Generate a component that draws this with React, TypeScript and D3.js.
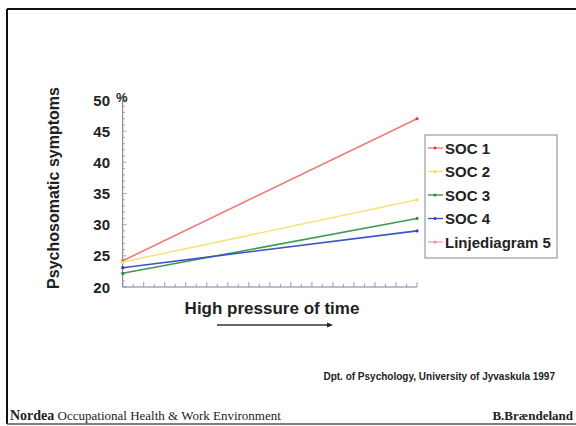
import { useEffect, useRef } from 'react';
import * as d3 from 'd3';

// two measuring points: low / high pressure of time
const xPoints = [0, 1];
const seriesNames = ['SOC 1', 'SOC 2', 'SOC 3', 'SOC 4', 'Linjediagram 5'];
const soc1 = [24.2, 47];
const soc2 = [24, 34];
const soc3 = [22.2, 31];
const soc4 = [23.1, 29];
const linje5: number[] = [];
const yTicks = [20, 25, 30, 35, 40, 45, 50];

const LINE_COLORS = ['#f07a7a', '#f6e37c', '#3f9a4c', '#3e50cc', '#f2a6b8'];
const MARK_COLORS = ['#e43a3a', '#f3dc5a', '#2f8a40', '#3040c0', '#f08aa0'];

export default function App() {
  const svgRef = useRef<SVGSVGElement>(null);
  const width = 576;
  const height = 426;

  useEffect(() => {
    if (!svgRef.current) return;
    const svg = d3.select(svgRef.current);
    svg.selectAll('*').remove();

    const left = 122.7;
    const right = 417;
    const top = 100;
    const bottom = 287;

    const x = d3.scaleLinear().domain([0, 1]).range([left, right]);
    const y = d3.scaleLinear().domain([20, 50]).range([bottom, top]);

    // frame
    svg.append('rect').attr('width', width).attr('height', height).attr('fill', '#fff');
    svg.append('line').attr('x1', 7).attr('x2', width).attr('y1', 9).attr('y2', 9)
      .attr('stroke', '#111').attr('stroke-width', 2);
    svg.append('line').attr('x1', 7).attr('x2', 7).attr('y1', 9).attr('y2', 424)
      .attr('stroke', '#111').attr('stroke-width', 2);
    svg.append('line').attr('x1', 7).attr('x2', width).attr('y1', 424).attr('y2', 424)
      .attr('stroke', '#555').attr('stroke-width', 1.5);

    const g = svg.append('g');

    // y axis with minor ticks
    g.append('line').attr('x1', left).attr('x2', left).attr('y1', top).attr('y2', bottom)
      .attr('stroke', '#777').attr('stroke-width', 1);
    g.selectAll('.ymin')
      .data(d3.range(20, 51, 1))
      .enter()
      .append('line')
      .attr('x1', left)
      .attr('x2', d => left + (d % 5 === 0 ? 4 : 2.5))
      .attr('y1', d => y(d))
      .attr('y2', d => y(d))
      .attr('stroke', '#999')
      .attr('stroke-width', 0.8);

    g.selectAll('.ylab')
      .data(yTicks)
      .enter()
      .append('text')
      .attr('x', 110)
      .attr('y', d => y(d))
      .attr('text-anchor', 'end')
      .attr('dominant-baseline', 'central')
      .attr('font-family', 'Liberation Sans, Arial, sans-serif')
      .attr('font-weight', 'bold')
      .attr('font-size', '15px')
      .attr('fill', '#222')
      .text(d => String(d));

    g.append('text')
      .attr('x', 116)
      .attr('y', 97)
      .attr('dominant-baseline', 'central')
      .attr('font-family', 'Liberation Sans, Arial, sans-serif')
      .attr('font-weight', 'bold')
      .attr('font-size', '13px')
      .attr('fill', '#222')
      .text('%');

    // x axis with small upward ticks
    g.append('line').attr('x1', left).attr('x2', right).attr('y1', bottom).attr('y2', bottom)
      .attr('stroke', '#7a7aa8').attr('stroke-width', 1.2);
    g.selectAll('.xtick')
      .data(d3.range(0, 29))
      .enter()
      .append('line')
      .attr('x1', d => x(d / 28))
      .attr('x2', d => x(d / 28))
      .attr('y1', bottom)
      .attr('y2', d => bottom - (d % 2 === 0 ? 5 : 3))
      .attr('stroke', '#888')
      .attr('stroke-width', 0.8);

    // axis titles
    g.append('text')
      .attr('transform', `translate(53,188) rotate(-90)`)
      .attr('text-anchor', 'middle')
      .attr('dominant-baseline', 'central')
      .attr('font-family', 'Liberation Sans, Arial, sans-serif')
      .attr('font-weight', 'bold')
      .attr('font-size', '16px')
      .attr('fill', '#222')
      .text('Psychosomatic symptoms');

    g.append('text')
      .attr('x', 272)
      .attr('y', 308)
      .attr('text-anchor', 'middle')
      .attr('dominant-baseline', 'central')
      .attr('font-family', 'Liberation Sans, Arial, sans-serif')
      .attr('font-weight', 'bold')
      .attr('font-size', '17px')
      .attr('fill', '#222')
      .text('High pressure of time');

    // arrow
    g.append('line').attr('x1', 217).attr('x2', 330).attr('y1', 325).attr('y2', 325)
      .attr('stroke', '#333').attr('stroke-width', 1.3);
    g.append('path').attr('d', 'M333,325 L327,322.5 L327,327.5 Z').attr('fill', '#222');

    // series lines
    const allSeries = [soc1, soc2, soc3, soc4, linje5];
    const line = d3.line<number>()
      .x((_, i) => x(xPoints[i]))
      .y(d => y(d));

    allSeries.forEach((vals, si) => {
      if (!vals.length) return;
      g.append('path')
        .attr('d', line(vals) as string)
        .attr('fill', 'none')
        .attr('stroke', LINE_COLORS[si])
        .attr('stroke-width', 1.6);
      g.selectAll(`.m${si}`)
        .data(vals)
        .enter()
        .append('circle')
        .attr('cx', (_, i) => x(xPoints[i]))
        .attr('cy', d => y(d))
        .attr('r', 1.6)
        .attr('fill', MARK_COLORS[si]);
    });

    // legend
    const lx = 425;
    const ly = 135;
    g.append('rect').attr('x', lx).attr('y', ly).attr('width', 132).attr('height', 123)
      .attr('fill', '#fff').attr('stroke', '#888').attr('stroke-width', 1);
    const lg = g.selectAll('.leg')
      .data(seriesNames)
      .enter()
      .append('g')
      .attr('transform', (_, i) => `translate(${lx},${ly + 13 + i * 23.5})`);
    lg.append('line').attr('x1', 3).attr('x2', 18).attr('y1', 0).attr('y2', 0)
      .attr('stroke', (_, i) => LINE_COLORS[i]).attr('stroke-width', 1.4);
    lg.append('circle').attr('cx', 10).attr('cy', 0).attr('r', 1.5)
      .attr('fill', (_, i) => MARK_COLORS[i]);
    lg.append('text')
      .attr('x', 20)
      .attr('y', 0)
      .attr('dominant-baseline', 'central')
      .attr('font-family', 'Liberation Sans, Arial, sans-serif')
      .attr('font-weight', 'bold')
      .attr('font-size', '15px')
      .attr('fill', '#222')
      .text(d => d);

    // footer
    g.append('text')
      .attr('x', 555)
      .attr('y', 376)
      .attr('text-anchor', 'end')
      .attr('dominant-baseline', 'central')
      .attr('font-family', 'Liberation Sans, Arial, sans-serif')
      .attr('font-weight', 'bold')
      .attr('font-size', '10px')
      .attr('fill', '#222')
      .text('Dpt. of Psychology, University of Jyvaskula 1997');

    const ft = g.append('text')
      .attr('x', 10)
      .attr('y', 420)
      .attr('font-family', 'Liberation Serif, Times New Roman, serif')
      .attr('font-size', '13px')
      .attr('fill', '#222');
    ft.append('tspan').attr('font-weight', 'bold').attr('font-size', '14px').text('Nordea');
    ft.append('tspan').text('  Occupational Health & Work Environment');

    g.append('text')
      .attr('x', 573)
      .attr('y', 420)
      .attr('text-anchor', 'end')
      .attr('font-family', 'Liberation Serif, Times New Roman, serif')
      .attr('font-weight', 'bold')
      .attr('font-size', '13px')
      .attr('fill', '#222')
      .text('B.Brændeland');
  }, []);

  return (
    <svg
      ref={svgRef}
      width={width}
      height={height}
      style={{ position: 'absolute', left: 0, top: 0, display: 'block' }}
    />
  );
}
